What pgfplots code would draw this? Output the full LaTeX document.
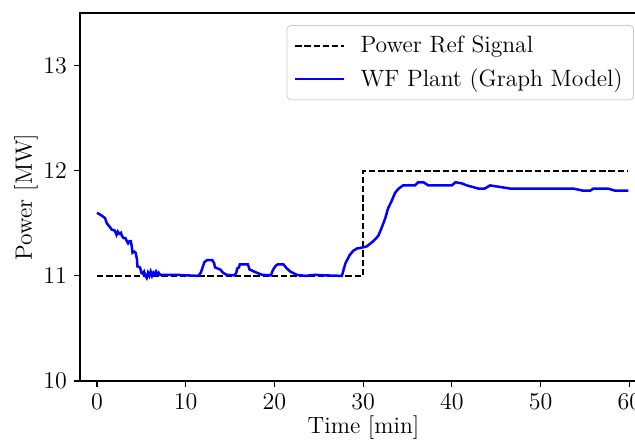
\documentclass[border=0pt]{standalone}
\usepackage{pgfplots}
\pgfplotsset{compat=1.18}
\begin{document}
\begin{tikzpicture}
\begin{axis}[
  at={(0,0)}, anchor=south west,
  scale only axis, width=283.5pt, height=184pt,
  xmin=-1.92, xmax=62, ymin=10, ymax=13.5,
  xtick={0,10,20,30,40,50,60},
  ytick={10,11,12,13},
  tick align=outside, tick pos=left,
  major tick length=3pt,
  axis line style={line width=0.6pt},
  every tick/.style={black, line width=0.6pt},
  font=\fontsize{11.8}{14}\selectfont,
  xlabel={Time [min]}, ylabel={Power [MW]},
  x label style={at={(rel axis cs:0.5,0)}, anchor=center, yshift=-23.5pt},
  y label style={at={(rel axis cs:0,0.5)}, anchor=center, yshift=27pt},
  legend style={at={(rel axis cs:0.977,0.967)}, anchor=north east,
    draw=black!20, rounded corners=2pt, fill=white,
    inner xsep=3.5pt, inner ysep=3.2pt, row sep=2.5pt,
    /tikz/every odd column/.append style={column sep=5.5pt},
    font=\fontsize{11.8}{14}\selectfont},
  legend cell align=left,
  legend image code/.code={\draw[#1] (0pt,0pt) -- (24.5pt,0pt);},
  clip=false,
]
\addplot[black, line width=1.2pt, dash pattern=on 3.2pt off 1.4pt] coordinates {
(0,11) (30,11) (30,12) (59.9,12)};
\addlegendentry{Power Ref Signal}
\addplot[blue, line width=1.25pt] coordinates {
(0.0,11.60) (0.4,11.58) (0.9,11.55) (1.1,11.50) (1.4,11.47) (1.65,11.44)
(2.0,11.43) (2.2,11.39) (2.35,11.42) (2.5,11.40) (2.7,11.41) (2.8,11.38)
(3.0,11.36) (3.2,11.36) (3.3,11.34) (3.5,11.31) (3.65,11.33) (3.8,11.33)
(3.9,11.29) (4.0,11.22) (4.2,11.23) (4.35,11.22) (4.5,11.16) (4.55,11.09)
(4.85,11.08) (5.0,11.03) (5.15,11.02) (5.3,11.04) (5.45,11.00) (5.6,10.98)
(5.75,11.03) (5.9,11.00) (6.05,11.04) (6.2,11.00) (6.35,11.03) (6.5,11.01)
(6.65,11.04) (6.8,11.01) (6.95,11.03) (7.1,11.01) (8.0,11.01) (9.0,11.01)
(10.0,11.005) (11.4,11.0) (11.7,11.03) (11.9,11.08) (12.1,11.13) (12.4,11.15)
(13.0,11.15) (13.2,11.12) (13.3,11.08) (13.9,11.06) (14.2,11.03) (14.6,11.01)
(15.5,11.005) (15.7,11.03) (15.8,11.07) (16.0,11.08) (16.1,11.11) (17.0,11.11)
(17.2,11.06) (18.0,11.03) (18.6,11.01) (19.6,11.005) (19.8,11.05) (20.0,11.08)
(20.2,11.10) (20.4,11.11) (21.0,11.11) (21.4,11.07) (21.8,11.04) (22.5,11.01)
(23.5,11.0) (24.6,11.01) (25.5,11.005) (27.6,11.0) (28.0,11.12) (28.5,11.20)
(28.9,11.24) (29.3,11.26) (29.65,11.265) (30.4,11.28) (31.15,11.33) (31.7,11.38)
(32.1,11.46) (32.5,11.55) (32.8,11.64) (33.2,11.71) (33.6,11.79) (34.0,11.83)
(34.5,11.86) (35.85,11.86) (36.2,11.89) (36.8,11.89) (37.35,11.86) (40.0,11.86)
(40.4,11.89) (41.1,11.88) (41.7,11.86) (43.0,11.83) (43.7,11.83) (44.3,11.86)
(45.1,11.85) (46.6,11.83) (53.7,11.83) (54.8,11.81) (55.6,11.81) (55.95,11.83)
(57.6,11.83) (58.4,11.81) (59.9,11.81)};
\addlegendentry{WF Plant (Graph Model)}
\end{axis}
\pgfresetboundingbox
\path[use as bounding box] (-40pt,-31pt) rectangle (277.5pt,190.5pt);
\end{tikzpicture}
\end{document}
